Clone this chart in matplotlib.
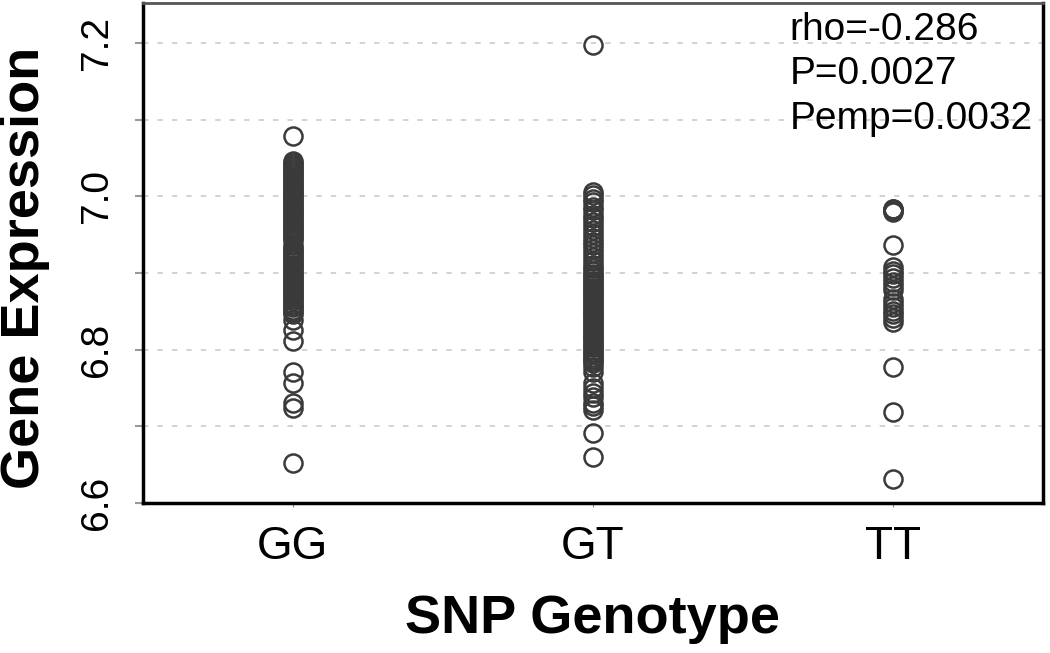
import matplotlib
matplotlib.use("Agg")
import matplotlib.pyplot as plt
import numpy as np

categories = ["GG", "GT", "TT"]

gg_values = [7.078, 7.046, 7.043, 7.041, 7.038, 7.035, 7.033, 7.030, 7.028, 7.025,
             7.022, 7.020, 7.017, 7.014, 7.012, 7.009, 7.006, 7.004, 7.001, 6.999,
             6.996, 6.993, 6.991, 6.988, 6.985, 6.983, 6.980, 6.977, 6.975, 6.972,
             6.969, 6.967, 6.964, 6.961, 6.959, 6.956, 6.953, 6.951, 6.948, 6.945,
             6.943, 6.936, 6.933, 6.930, 6.927, 6.925, 6.922, 6.919, 6.917, 6.914,
             6.911, 6.909, 6.906, 6.903, 6.900, 6.898, 6.895, 6.892, 6.890, 6.887,
             6.884, 6.882, 6.879, 6.876, 6.874, 6.871, 6.868, 6.866, 6.863, 6.860,
             6.857, 6.855, 6.852, 6.849, 6.846, 6.839, 6.826, 6.811, 6.771, 6.757,
             6.731, 6.724, 6.652]

gt_values = [7.197, 7.006, 7.001, 6.997, 6.992, 6.986, 6.982, 6.976, 6.972, 6.966,
             6.961, 6.956, 6.951, 6.946, 6.941, 6.936, 6.931, 6.926, 6.921, 6.916,
             6.911, 6.906, 6.902, 6.899, 6.896, 6.893, 6.890, 6.887, 6.884, 6.881,
             6.878, 6.875, 6.872, 6.869, 6.866, 6.863, 6.860, 6.857, 6.854, 6.851,
             6.848, 6.845, 6.842, 6.839, 6.836, 6.833, 6.830, 6.827, 6.824, 6.821,
             6.818, 6.815, 6.812, 6.809, 6.806, 6.803, 6.800, 6.797, 6.794, 6.791,
             6.788, 6.785, 6.782, 6.777, 6.771, 6.757, 6.750, 6.744, 6.738, 6.731,
             6.726, 6.721, 6.691, 6.660]

tt_values = [6.984, 6.983, 6.981, 6.980, 6.937, 6.908, 6.903, 6.898, 6.893, 6.888,
             6.883, 6.878, 6.866, 6.861, 6.856, 6.851, 6.846, 6.841, 6.836, 6.777,
             6.719, 6.631]

stats_text = "rho=-0.286\nP=0.0027\nPemp=0.0032"

y_major = [6.6, 6.8, 7.0, 7.2]
y_minor = [6.7, 6.9, 7.1]

plt.rcParams['font.family'] = ['Liberation Sans', 'DejaVu Sans']

fig = plt.figure(figsize=(10.5, 6.53), dpi=100)
ax = fig.add_axes([0.136, 0.2297, 0.857, 0.7657])

marker_color = "#3a3a3a"
for i, vals in enumerate([gg_values, gt_values, tt_values]):
    ax.plot(np.full(len(vals), i + 1), vals, linestyle="none", marker="o",
            markersize=13, markerfacecolor="none", markeredgecolor=marker_color,
            markeredgewidth=1.8, zorder=3)

ax.set_xlim(0.5, 3.5)
ax.set_ylim(6.6, 7.252)
ax.set_xticks([1, 2, 3])
ax.set_xticklabels(categories, fontsize=33)
ax.set_yticks(y_major)
ax.set_yticklabels([f"{v:.1f}" for v in y_major], fontsize=28, rotation=90, va="center")
ax.set_yticks(y_minor, minor=True)

for v in y_major[1:] + y_minor:
    ax.axhline(v, color="#cfcfcf", linestyle=(0, (3, 5)), linewidth=1.3, zorder=1)

ax.tick_params(axis="x", length=3, color="#888888", pad=13)
ax.tick_params(axis="y", which="both", length=6, color="#999999", width=1.5, pad=14)

for s in ax.spines.values():
    s.set_linewidth(2.5)
    s.set_color("black")
ax.spines["top"].set_color("#555555")
ax.spines["top"].set_linewidth(2)

ax.set_xlabel("SNP Genotype", fontsize=39, fontweight="bold", labelpad=18)
ax.set_ylabel("Gene Expression", fontsize=39, fontweight="bold")
ax.yaxis.set_label_coords(-0.103, 0.47)

ax.text(0.719, 0.982, stats_text, transform=ax.transAxes, fontsize=28,
        va="top", ha="left", linespacing=1.3)

fig.savefig("out.png", dpi=100)
